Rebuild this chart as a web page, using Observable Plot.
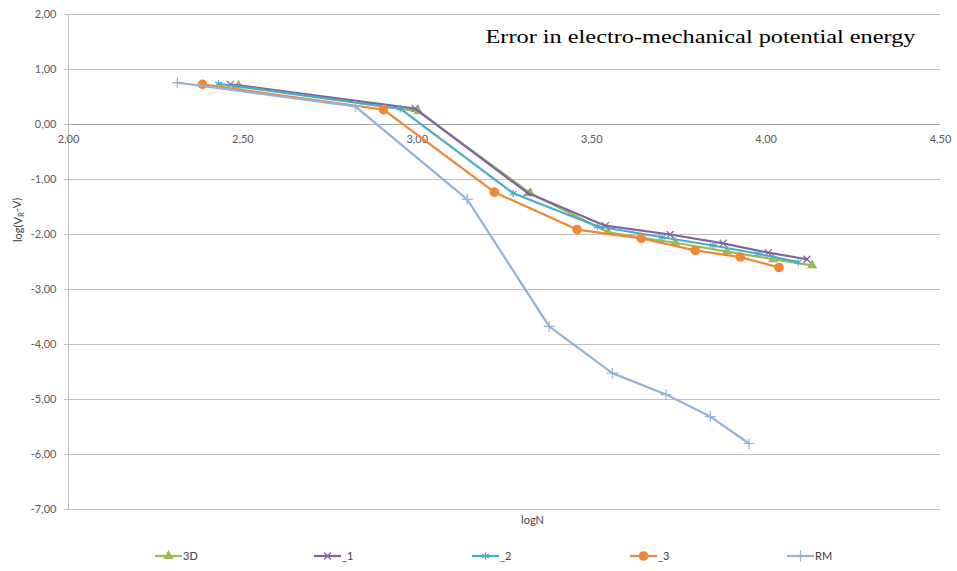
<!DOCTYPE html>
<html>
<head>
<meta charset="utf-8">
<script src="https://cdn.jsdelivr.net/npm/d3@7"></script>
<script src="https://cdn.jsdelivr.net/npm/@observablehq/plot@0.6"></script>
<style>
  html, body { margin: 0; padding: 0; background: #fff; }
  #chart { width: 957px; }
  #legend { position: relative; width: 957px; height: 31px; font-family: Lato, "Noto Sans", sans-serif; font-size: 11px; color: #404040; }
  .item { position: absolute; top: 9px; display: flex; align-items: center; }
  .item svg { display: block; margin-right: 1px; }
</style>
</head>
<body>
<div id="chart"></div>
<div id="legend"></div>
<script>
// ---- data ----
const seriesNames = ["3D", "_1", "_2", "_3", "RM"];
const logN_3D = [2.487, 3.003, 3.324, 3.547, 3.739, 3.888, 4.020, 4.132];
const err_3D  = [0.71, 0.24, -1.25, -1.96, -2.15, -2.31, -2.45, -2.56];
const logN_1  = [2.464, 2.994, 3.315, 3.539, 3.725, 3.877, 4.006, 4.117];
const err_1   = [0.73, 0.29, -1.24, -1.84, -2.00, -2.16, -2.33, -2.45];
const logN_2  = [2.430, 2.951, 3.275, 3.516, 3.702, 3.848, 3.977, 4.092];
const err_2   = [0.74, 0.29, -1.25, -1.85, -2.05, -2.20, -2.35, -2.50];
const logN_3  = [2.384, 2.903, 3.221, 3.458, 3.642, 3.797, 3.926, 4.037];
const err_3   = [0.73, 0.27, -1.23, -1.91, -2.07, -2.29, -2.41, -2.60];
const logN_RM = [2.312, 2.822, 3.143, 3.378, 3.559, 3.713, 3.840, 3.951];
const err_RM  = [0.76, 0.33, -1.36, -3.67, -4.52, -4.91, -5.31, -5.80];
const xTicks = [2.0, 2.5, 3.0, 3.5, 4.0, 4.5];
const yTicks = [2, 1, 0, -1, -2, -3, -4, -5, -6, -7];
const titleText = "Error in electro-mechanical potential energy";
const xLabel = "logN";
const yLabel = "log(VR-V)";

// ---- styles ----
const styles = {
  "3D": {color: "#9BBB59", symbol: "triangle", filled: true, r: 3.8},
  "_1": {color: "#8064A2", symbol: "times", filled: false, r: 3.3},
  "_2": {color: "#4BACC6", symbol: "asterisk", filled: false, r: 3.6},
  "_3": {color: "#EE8838", symbol: "circle", filled: true, r: 4.8},
  "RM": {color: "#95B3D7", symbol: "plus", filled: false, r: 3.6}
};

const xs = {"3D": logN_3D, "_1": logN_1, "_2": logN_2, "_3": logN_3, "RM": logN_RM};
const ys = {"3D": err_3D, "_1": err_1, "_2": err_2, "_3": err_3, "RM": err_RM};
const data = seriesNames.flatMap(s => xs[s].map((x, i) => ({series: s, x, y: ys[s][i]})));

const fmt = d => d.toFixed(2).replace(".", ",");

const seriesMarks = seriesNames.flatMap(s => {
  const st = styles[s];
  const rows = data.filter(d => d.series === s);
  return [
    Plot.line(rows, {x: "x", y: "y", stroke: st.color, strokeWidth: 2.25}),
    Plot.dot(rows, {
      x: "x", y: "y", symbol: st.symbol, r: st.r,
      fill: st.filled ? st.color : "none",
      stroke: st.filled ? "none" : st.color,
      strokeWidth: 1.2
    })
  ];
});

const chart = Plot.plot({
  width: 957,
  height: 540,
  marginLeft: 68,
  marginRight: 17,
  marginTop: 14,
  marginBottom: 31,
  x: {domain: [2, 4.5], axis: null},
  y: {domain: [-7, 2]},
  style: {fontFamily: "Lato, 'Noto Sans', sans-serif", fontSize: "11px", color: "#595959", background: "#fff"},
  marks: [
    Plot.gridY(yTicks, {stroke: "#bfbfbf", strokeOpacity: 1, strokeWidth: 1}),
    Plot.axisY(yTicks, {tickFormat: fmt, tickSize: 4, tickPadding: 8, stroke: "#bfbfbf", label: null}),
    Plot.ruleX([2], {stroke: "#bfbfbf"}),
    Plot.ruleY([0], {stroke: "#a6a6a6"}),
    Plot.text(xTicks, {x: d => d, y: 0, text: fmt, dy: 15, fill: "#595959"}),
    ...seriesMarks,
    Plot.text([titleText], {frameAnchor: "top-right", dx: -25, dy: 15, lineAnchor: "top", textAnchor: "end",
      fontFamily: "'Liberation Serif', 'Times New Roman', serif", fontSize: 19.5, fill: "#000", className: "ctitle"}),
    Plot.text([xLabel], {frameAnchor: "bottom", dx: 28, dy: 14, fill: "#404040", fontSize: 11}),
    Plot.text([yLabel], {frameAnchor: "left", rotate: -90, dx: -50, dy: -20, fill: "#404040", fontSize: 11, className: "ylabel"})
  ]
});
document.getElementById("chart").appendChild(chart);

// stretch the title to the reference width
d3.select(chart).selectAll(".ctitle text")
  .attr("textLength", 430).attr("lengthAdjust", "spacingAndGlyphs");

// subscript R in the y label
d3.select(chart).selectAll(".ylabel text").each(function() {
  const t = d3.select(this);
  t.text(null);
  t.append("tspan").text("log(V");
  t.append("tspan").attr("font-size", 8).attr("dy", "0.25em").text("R");
  t.append("tspan").attr("dy", "-0.25em").text("-V)");
});

// legend
const legend = d3.select("#legend");
const lefts = [155, 314, 472, 630, 787];
seriesNames.forEach((s, i) => {
  const st = styles[s];
  const item = legend.append("div").attr("class", "item").style("left", lefts[i] + "px");
  const svg = item.append("svg").attr("width", 27).attr("height", 12);
  svg.append("line").attr("x1", 0).attr("x2", 27).attr("y1", 6).attr("y2", 6)
    .attr("stroke", st.color).attr("stroke-width", 2.25);
  const sym = {triangle: d3.symbolTriangle, times: d3.symbolTimes, asterisk: d3.symbolAsterisk, circle: d3.symbolCircle, plus: d3.symbolPlus}[st.symbol];
  svg.append("path").attr("transform", "translate(13.5,6)")
    .attr("d", d3.symbol(sym, Math.PI * st.r * st.r)())
    .attr("fill", st.filled ? st.color : "none")
    .attr("stroke", st.filled ? "none" : st.color)
    .attr("stroke-width", 1.2);
  item.append("span").text(s);
});
</script>
</body>
</html>
